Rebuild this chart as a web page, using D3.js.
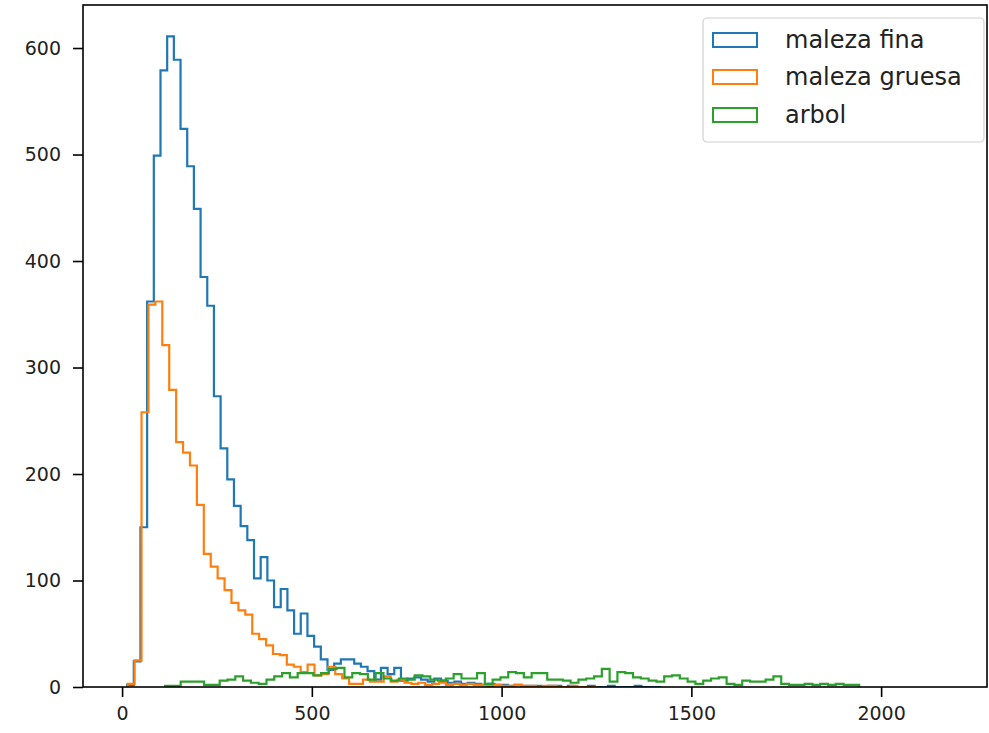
<!DOCTYPE html>
<html>
<head>
<meta charset="utf-8">
<script src="https://cdn.jsdelivr.net/npm/d3@7"></script>
<style>
  html, body { margin: 0; padding: 0; background: #fff; }
  svg { display: block; }
  text { font-family: "DejaVu Sans", sans-serif; }
</style>
</head>
<body>
<svg id="chart" width="989" height="733"></svg>
<script>
// ---- data ----
const seriesNames = ["maleza fina", "maleza gruesa", "arbol"];
const seriesColors = ["#1f77b4", "#ff7f0e", "#2ca02c"];

// bin start and width, in data units
const finaStart = 13.2, finaWidth = 17.6;
const finaCounts = [2, 24, 150, 362, 499, 579, 611, 589, 524, 489, 449, 385, 358, 273, 224, 195, 170, 151, 138, 102,
  122, 100, 75, 92, 72, 50, 69, 48, 38, 26, 16, 22, 26, 26, 22, 19, 15, 7, 18, 12,
  18, 6, 8, 9, 7, 5, 8, 6, 4, 5, 3, 4, 3, 2, 3, 2, 2, 1, 2, 1,
  1, 1, 0, 1, 1, 0, 1, 0, 0, 1, 0, 0, 1, 0, 0, 0, 1, 0, 0, 0];

const gruesaStart = 14.8, gruesaWidth = 18.23;
const gruesaCounts = [3, 25, 258, 359, 362, 321, 279, 230, 220, 208, 171, 125, 113, 102, 91, 79, 72, 68, 50, 45,
  39, 31, 30, 21, 19, 14, 21, 11, 12, 19, 12, 8, 3, 3, 7, 5, 5, 10, 5, 7,
  4, 3, 4, 2, 3, 4, 2, 3, 2, 3, 2, 2, 1, 2, 1, 1, 2, 1, 1, 0,
  1, 1, 0, 0, 1, 0, 0, 0];

const arbolStart = 113.3, arbolWidth = 20.55;
const arbolCounts = [1, 1, 5, 5, 5, 2, 2, 6, 7, 10, 6, 4, 3, 7, 10, 13, 9, 13, 13, 11,
  13, 17, 18, 9, 13, 12, 7, 13, 8, 6, 8, 7, 11, 10, 7, 6, 8, 12, 8, 8,
  13, 3, 7, 9, 14, 13, 9, 13, 13, 7, 7, 6, 4, 7, 8, 10, 17, 5, 14, 13,
  9, 8, 6, 5, 10, 11, 8, 5, 3, 6, 8, 9, 3, 2, 6, 5, 5, 7, 10, 3,
  2, 2, 3, 2, 3, 2, 3, 2, 2];

const xTicks = [0, 500, 1000, 1500, 2000];
const yTicks = [0, 100, 200, 300, 400, 500, 600];
const xDomain = [-103, 2279];
const yDomain = [0, 640.4];

// ---- layout ----
const svg = d3.select("#chart");
const L = 83, R = 987, T = 5, B = 687;
const x = d3.scaleLinear().domain(xDomain).range([L, R]);
const y = d3.scaleLinear().domain(yDomain).range([B, T]);

svg.append("defs").append("clipPath").attr("id", "clip")
  .append("rect").attr("x", L).attr("y", T).attr("width", R - L).attr("height", B - T);

function stepPoints(start, width, counts) {
  const pts = [[start, 0]];
  counts.forEach((c, i) => {
    pts.push([start + i * width, c]);
    pts.push([start + (i + 1) * width, c]);
  });
  pts.push([start + counts.length * width, 0]);
  return pts;
}

const line = d3.line().x(d => x(d[0])).y(d => y(d[1]));
const series = [
  stepPoints(finaStart, finaWidth, finaCounts),
  stepPoints(gruesaStart, gruesaWidth, gruesaCounts),
  stepPoints(arbolStart, arbolWidth, arbolCounts)
];

const plot = svg.append("g").attr("clip-path", "url(#clip)");
series.forEach((pts, i) => {
  plot.append("path").attr("d", line(pts))
    .attr("fill", "none").attr("stroke", seriesColors[i])
    .attr("stroke-width", 2.2).attr("stroke-linejoin", "miter");
});

// axes
const xAxis = svg.append("g").attr("transform", `translate(0,${B})`)
  .call(d3.axisBottom(x).tickValues(xTicks).tickSize(10).tickPadding(10).tickFormat(d3.format("d")));
const yAxis = svg.append("g").attr("transform", `translate(${L},0)`)
  .call(d3.axisLeft(y).tickValues(yTicks).tickSize(10).tickPadding(12).tickFormat(d3.format("d")));
[xAxis, yAxis].forEach(g => {
  g.select(".domain").remove();
  g.selectAll(".tick line").attr("stroke", "#000").attr("stroke-width", 1.6);
  g.selectAll(".tick text").attr("fill", "#222").style("font-size", "19px").style("font-family", "DejaVu Sans");
});

// frame
svg.append("rect").attr("x", L).attr("y", T).attr("width", R - L).attr("height", B - T)
  .attr("fill", "none").attr("stroke", "#000").attr("stroke-width", 1.6);

// legend
const lg = svg.append("g");
lg.append("rect").attr("x", 703).attr("y", 18).attr("width", 281).attr("height", 124)
  .attr("rx", 4).attr("fill", "#fff").attr("fill-opacity", 0.8)
  .attr("stroke", "#d0d0d0").attr("stroke-width", 1.2);
const rowY = [40, 77, 115];
seriesNames.forEach((name, i) => {
  lg.append("rect").attr("x", 713).attr("y", rowY[i] - 7).attr("width", 44).attr("height", 14)
    .attr("fill", "none").attr("stroke", seriesColors[i]).attr("stroke-width", 2);
  lg.append("text").attr("x", 785).attr("y", rowY[i]).attr("dy", "0.35em")
    .attr("fill", "#222").style("font-size", "24px").text(name);
});
</script>
</body>
</html>
